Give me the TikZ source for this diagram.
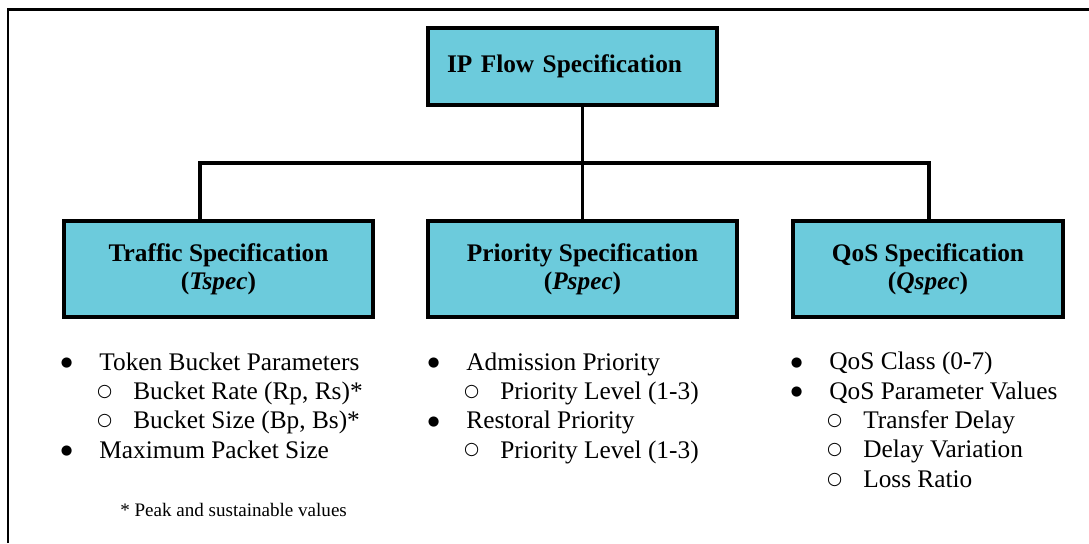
\documentclass[tikz,border=0pt]{standalone}
\usepackage{fontspec}
\setmainfont{Liberation Serif}
\newfontfamily\symfont{DejaVu Sans}
\definecolor{specblue}{RGB}{108,203,220}
\newcommand{\bitem}{\makebox[29pt][l]{\raisebox{2.6pt}{\symfont\fontsize{10}{0}\selectfont ●}}}
\newcommand{\citem}{\hspace*{27.2pt}\makebox[27.2pt][l]{\raisebox{2.4pt}{\symfont\fontsize{13}{0}\selectfont ○}}}

\begin{document}
\begin{tikzpicture}[x=0.75pt, y=-0.75pt,
    spec/.style={draw, line width=3pt, fill=specblue, align=center,
        font=\fontsize{19}{21}\selectfont\bfseries},
    link/.style={line width=2.6pt},
    list/.style={anchor=base west, inner sep=0pt, align=left,
        font=\fontsize{19}{22}\selectfont}]
    \useasboundingbox (0,0) rectangle (1089,543);

    % Frame
    \draw[line width=2.2pt] (8,543) -- (8,9.5) -- (1089,9.5);

    % Boxes
    \node[spec, minimum width=216.75pt, minimum height=57.75pt,
        text width=188.25pt, align=left] (ipflow) at (572.5,66.5) {IP Flow Specification};
    \node[spec, minimum width=231.75pt, minimum height=72pt] (tspec) at (218.5,269)
        {Traffic Specification\\(\textit{Tspec})};
    \node[spec, minimum width=231.75pt, minimum height=72pt] (pspec) at (582.5,269)
        {Priority Specification\\(\textit{Pspec})};
    \node[spec, minimum width=202.5pt, minimum height=72pt] (qspec) at (928,269)
        {QoS Specification\\(\textit{Qspec})};

    % Connectors
    \coordinate (lj) at (200,163);
    \coordinate (rj) at (929,163);
    \draw[link] (ipflow.south -| pspec.north) -- (pspec.north);
    \draw[link] (tspec.north -| lj) -- (lj) -- (rj) -- (qspec.north -| rj);

    % Lists (base = last line)
    \node[list] (tlist) at (60.5,458) {\bitem Token Bucket Parameters\\
        \citem Bucket Rate (Rp, Rs)*\\
        \citem Bucket Size (Bp, Bs)*\\
        \bitem Maximum Packet Size};
    \node[list] (plist) at (427.5,458) {\bitem Admission Priority\\
        \citem Priority Level (1-3)\\
        \bitem Restoral Priority\\
        \citem Priority Level (1-3)};
    \node[list] (qlist) at (790.5,487.3) {\bitem QoS Class (0-7)\\
        \bitem QoS Parameter Values\\
        \citem Transfer Delay\\
        \citem Delay Variation\\
        \citem Loss Ratio};

    % Footnote
    \node[anchor=base west, inner sep=0pt, font=\fontsize{14.3}{16}\selectfont]
        (note) at (120,516) {* Peak and sustainable values};

\end{tikzpicture}
\end{document}
